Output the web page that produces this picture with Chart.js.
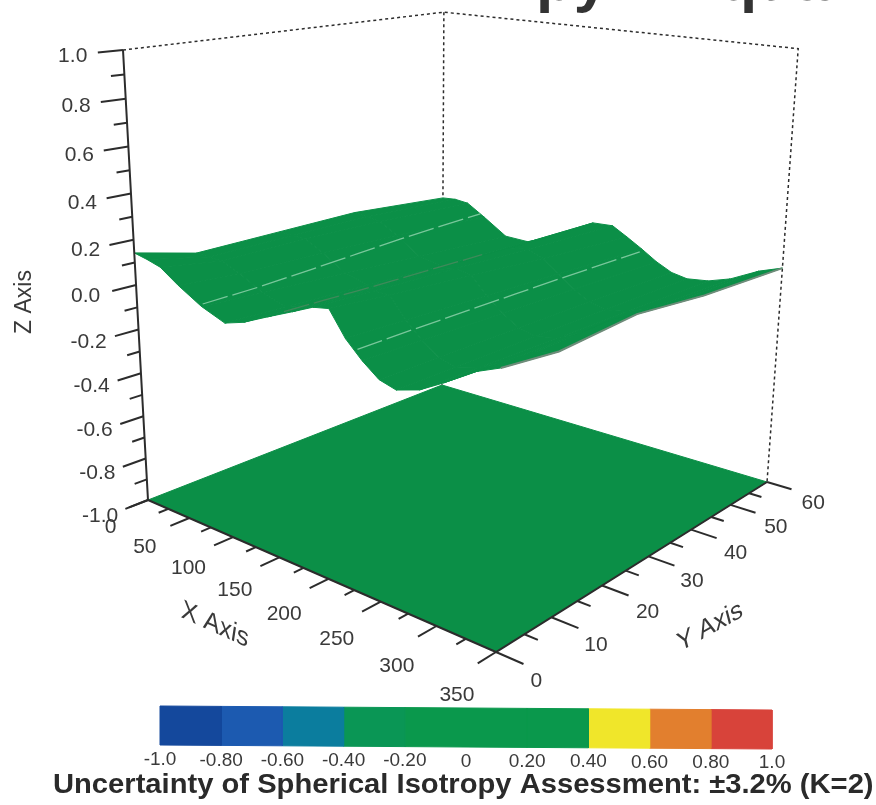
<!DOCTYPE html>
<html>
<head>
<meta charset="utf-8">
<title>Spherical isotropy</title>
<script src="https://cdn.jsdelivr.net/npm/chart.js@4"></script>
<style>
  html, body { margin: 0; padding: 0; background: #fff; }
  canvas { display: block; }
</style>
</head>
<body>
<canvas id="chart" width="876" height="805"></canvas>
<script>
// surface heights, one list per Y position
const xGrid = [0, 15, 30, 50, 75, 100, 120, 145, 170, 190, 205, 220, 235, 250, 265, 285, 305, 330, 350];
const yGrid = [0, 10, 25, 40, 60];
const zAtY0 = [0.142, 0.128, 0.11, 0.052, -0.01, -0.052, -0.025, 0.027, 0.077, 0.118, 0.13, 0.03, -0.038, -0.092, -0.112, -0.084, -0.03, 0.045, 0.085];
const zAtY10 = [0.076, 0.073, 0.07, 0.035, -0.025, -0.058, -0.03, 0.022, 0.075, 0.11, 0.11, 0.025, -0.04, -0.09, -0.11, -0.086, -0.04, 0.03, 0.06];
const zAtY25 = [0.082, 0.078, 0.075, 0.03, -0.04, -0.07, -0.038, 0.018, 0.075, 0.1, 0.085, 0.015, -0.045, -0.09, -0.11, -0.09, -0.045, 0.04, 0.085];
const zAtY40 = [0.088, 0.08, 0.07, 0.02, -0.06, -0.08, -0.045, 0.014, 0.074, 0.088, 0.06, 0.005, -0.05, -0.092, -0.11, -0.095, -0.058, 0.005, 0.05];
const zAtY60 = [0.053, 0.058, 0.05, -0.008, -0.085, -0.09, -0.052, 0.01, 0.072, 0.076, 0.034, -0.01, -0.058, -0.095, -0.11, -0.099, -0.068, -0.005, 0.03];
const zRows = [zAtY0, zAtY10, zAtY25, zAtY40, zAtY60];

const xTicks = [0, 50, 100, 150, 200, 250, 300, 350];
const xMinorTicks = [25, 75, 125, 175, 225, 275, 325];
const yTicks = [0, 10, 20, 30, 40, 50, 60];
const yMinorTicks = [5, 15, 25, 35, 45, 55];
const zTicks = [-1, -0.8, -0.6, -0.4, -0.2, 0, 0.2, 0.4, 0.6, 0.8, 1];
const zMinorTicks = [-0.9, -0.7, -0.5, -0.3, -0.1, 0.1, 0.3, 0.5, 0.7, 0.9];

const barStops = [-1, -0.8, -0.6, -0.4, -0.2, 0, 0.2, 0.4, 0.6, 0.8, 1];
const barLabels = ['-1.0', '-0.80', '-0.60', '-0.40', '-0.20', '0', '0.20', '0.40', '0.60', '0.80', '1.0'];
const barColors = ['#14489c', '#1c5ab0', '#0b7d9e', '#0a9655', '#0a984c', '#0a984c', '#0a984c', '#f0e62a', '#e27f2e', '#d8433a'];

// streaks left in the scanned surface, as X and Y ends
const streakX = [[73, 45], [228, 222], [130, 105]];
const streakY = [[0.5, 60], [0.5, 59], [5, 48]];

const GREEN = '#0b8f47';
const INK = '#2c2c2c';
const TEXT = '#3a3a3a';

// perspective box, from the floor corners and the top of the Z axis
const A = [148, 500], B = [496, 652], D = [442, 385], TOP = [123, 50];
const wu = 0.808, wv = 1.2308, wt = 0.915;

function project(x, y, z) {
  const u = x / 350, v = y / 60, t = (z + 1) / 2;
  const w = 1 + u * (wu - 1) + v * (wv - 1) + t * (wt - 1);
  const hx = A[0] + u * (wu * B[0] - A[0]) + v * (wv * D[0] - A[0]) + t * (wt * TOP[0] - A[0]);
  const hy = A[1] + u * (wu * B[1] - A[1]) + v * (wv * D[1] - A[1]) + t * (wt * TOP[1] - A[1]);
  return { x: hx / w, y: hy / w };
}

function surfaceZ(x, y) {
  let i = 0, j = 0;
  while (i < xGrid.length - 2 && xGrid[i + 1] < x) i++;
  while (j < yGrid.length - 2 && yGrid[j + 1] < y) j++;
  const fx = (x - xGrid[i]) / (xGrid[i + 1] - xGrid[i]);
  const fy = (y - yGrid[j]) / (yGrid[j + 1] - yGrid[j]);
  const a = zRows[j][i] * (1 - fx) + zRows[j][i + 1] * fx;
  const b = zRows[j + 1][i] * (1 - fx) + zRows[j + 1][i + 1] * fx;
  return a * (1 - fy) + b * fy;
}

function shape(points, color, order) {
  return {
    data: points.concat([points[0]]), showLine: true, fill: 'shape', tension: 0,
    backgroundColor: color, borderColor: color, borderWidth: 1, pointRadius: 0, order: order
  };
}

function line(points, color, width, dash, order) {
  return {
    data: points, showLine: true, fill: false, tension: 0,
    borderColor: color, borderWidth: width, borderDash: dash, pointRadius: 0, order: order
  };
}

const datasets = [];

// back box, dotted
const backDash = [3, 3];
const backCorner = project(0, 60, 1.025);
datasets.push(line([project(0, 0, 1), backCorner, project(350, 60, 1), project(350, 60, -1)], INK, 1.5, backDash, 5));
datasets.push(line([backCorner, project(0, 60, -1)], INK, 1.5, backDash, 5));

// floor
datasets.push(shape([project(0, 0, -1), project(350, 0, -1), project(350, 60, -1), project(0, 60, -1)], GREEN, 4));

// surface cells
for (let j = 0; j < yGrid.length - 1; j++) {
  for (let i = 0; i < xGrid.length - 1; i++) {
    datasets.push(shape([
      project(xGrid[i], yGrid[j], zRows[j][i]),
      project(xGrid[i + 1], yGrid[j], zRows[j][i + 1]),
      project(xGrid[i + 1], yGrid[j + 1], zRows[j + 1][i + 1]),
      project(xGrid[i], yGrid[j + 1], zRows[j + 1][i])
    ], GREEN, 3));
  }
}

// grey fringe on the far end of the surface
datasets.push(line(yGrid.map((y, j) => project(350, y, zRows[j][xGrid.length - 1])), '#6f8c7a', 2, [], 2));

// streaks
const streakColors = ['#79c79b', '#79c79b', '#3f8a5a'];
streakX.forEach((ends, s) => {
  const pts = [];
  for (let k = 0; k <= 6; k++) {
    const x = ends[0] + (ends[1] - ends[0]) * k / 6;
    const y = streakY[s][0] + (streakY[s][1] - streakY[s][0]) * k / 6;
    pts.push(project(x, y, surfaceZ(x, y)));
  }
  datasets.push(line(pts, streakColors[s], 1.3, [26, 5], 2));
});

// axes and ticks
datasets.push(line([project(0, 0, 1), project(0, 0, -1), project(350, 0, -1), project(350, 60, -1)], INK, 2, [], 1));
zTicks.forEach(z => datasets.push(line([project(0, 0, z), project(0, -3.7, z)], INK, 2, [], 1)));
zMinorTicks.forEach(z => datasets.push(line([project(0, 0, z), project(0, -2, z)], INK, 2, [], 1)));
xTicks.forEach(x => datasets.push(line([project(x, 0, -1), project(x, -3.1, -1)], INK, 2, [], 1)));
xMinorTicks.forEach(x => datasets.push(line([project(x, 0, -1), project(x, -1.6, -1)], INK, 2, [], 1)));
yTicks.forEach(y => datasets.push(line([project(350, y, -1), project(372, y, -1)], INK, 2, [], 1)));
yMinorTicks.forEach(y => datasets.push(line([project(350, y, -1), project(361, y, -1)], INK, 2, [], 1)));

// colour bar, the scan leaves it slightly tilted
const barX = v => 466 + v * 306;
const barTop = v => 708 + v * 2;
const barBottom = v => 747 + v * 2;
barColors.forEach((c, i) => {
  const a = barStops[i], b = barStops[i + 1];
  datasets.push(shape([
    { x: barX(a), y: barTop(a) }, { x: barX(b), y: barTop(b) },
    { x: barX(b), y: barBottom(b) }, { x: barX(a), y: barBottom(a) }
  ], c, 1));
});

const textPlugin = {
  id: 'chartText',
  afterDraw(chart) {
    const ctx = chart.ctx;
    const sx = chart.scales.x, sy = chart.scales.y;
    const put = (text, p) => ctx.fillText(text, sx.getPixelForValue(p.x), sy.getPixelForValue(p.y));

    ctx.save();
    ctx.fillStyle = TEXT;
    ctx.textAlign = 'center';
    ctx.textBaseline = 'middle';
    ctx.font = '21px "Liberation Sans"';
    zTicks.forEach(z => {
      const p = project(0, -7.7, z);
      put(z.toFixed(1), { x: p.x + (z > 0 ? 3 : 0), y: p.y + 1 - (1 - z) * 2 });
    });
    xTicks.forEach(x => {
      const p = project(x, -7, -1);
      put(String(x), { x: p.x + (x === 0 ? 6 : x < 300 ? -1 : 3), y: p.y + 10 + x / 350 * 7 });
    });
    yTicks.forEach(y => {
      const p = project(382 + 9 * y / 60, y, -1);
      put(String(y), { x: p.x + (y === 10 || y === 20 ? 3 : 0), y: p.y + 12 - 5 * y / 60 });
    });

    ctx.font = '23px "Liberation Sans"';
    ctx.save();
    ctx.translate(25, 302);
    ctx.rotate(-Math.PI / 2);
    ctx.fillText('Z Axis', 0, 0);
    ctx.restore();

    ctx.font = '26px "Liberation Sans"';
    ctx.save();
    ctx.transform(0.91, 0.41, -0.15, 1, 215, 625);
    ctx.fillText('X Axis', 0, 0);
    ctx.restore();
    ctx.save();
    ctx.transform(0.87, -0.49, 0.25, 0.95, 710, 627);
    ctx.fillText('Y Axis', 0, 0);
    ctx.restore();

    ctx.font = '19px "Liberation Sans"';
    barStops.forEach((v, i) => put(barLabels[i], { x: barX(v), y: 761.5 + v * 1.5 }));

    ctx.fillStyle = '#2a2a2a';
    ctx.textAlign = 'left';
    ctx.textBaseline = 'alphabetic';
    ctx.font = 'bold 27px "Liberation Sans"';
    ctx.save();
    ctx.translate(53, 792.5);
    ctx.scale(1.08, 1);
    ctx.fillText('Uncertainty of Spherical Isotropy Assessment: \u00b13.2% (K=2)', 0, 0);
    ctx.restore();

    ctx.fillStyle = '#333';
    ctx.font = 'bold 62px "Liberation Sans"';
    ctx.fillText('py', 536, 0);
    ctx.fillText('Equa', 678, 0);
    ctx.restore();
  }
};

new Chart(document.getElementById('chart'), {
  type: 'scatter',
  data: { datasets: datasets },
  options: {
    responsive: false,
    animation: false,
    layout: { padding: 0 },
    plugins: { legend: { display: false }, tooltip: { enabled: false } },
    scales: {
      x: { type: 'linear', min: 0, max: 876, display: false },
      y: { type: 'linear', min: 0, max: 805, reverse: true, display: false }
    }
  },
  plugins: [textPlugin]
});
</script>
</body>
</html>
